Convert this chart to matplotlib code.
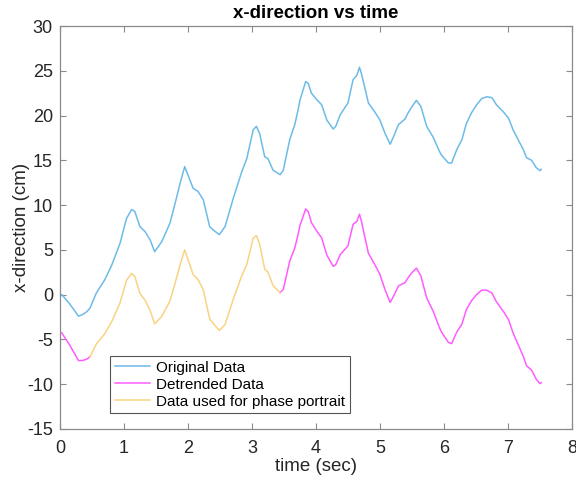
import matplotlib
matplotlib.use('Agg')
import matplotlib.pyplot as plt
import numpy as np

plt.rcParams['font.family'] = ['Liberation Sans', 'DejaVu Sans']
plt.rcParams['axes.unicode_minus'] = False

# time axis (sec)
t = [0.00, 0.03, 0.15, 0.29, 0.36, 0.42, 0.47, 0.57, 0.70, 0.81, 0.94, 1.04, 1.12, 1.17,
     1.25, 1.33, 1.41, 1.48, 1.59, 1.72, 1.80, 1.88, 1.95, 2.08, 2.16, 2.24, 2.34, 2.40,
     2.49, 2.58, 2.71, 2.84, 2.92, 3.02, 3.07, 3.12, 3.20, 3.25, 3.33, 3.44, 3.49, 3.59,
     3.67, 3.72, 3.75, 3.84, 3.88, 3.93, 4.01, 4.09, 4.17, 4.27, 4.31, 4.38, 4.50, 4.58,
     4.64, 4.68, 4.71, 4.82, 4.92, 5.00, 5.08, 5.16, 5.21, 5.29, 5.39, 5.44, 5.50, 5.57,
     5.64, 5.73, 5.83, 5.93, 5.96, 6.07, 6.12, 6.20, 6.28, 6.35, 6.43, 6.51, 6.59, 6.67,
     6.75, 6.82, 6.93, 7.01, 7.08, 7.16, 7.24, 7.29, 7.37, 7.44, 7.50, 7.52]

# original x-direction (cm)
x_orig = [0.0, 0.0, -1.0, -2.4, -2.2, -1.9, -1.5, 0.2, 1.65, 3.3, 5.75, 8.5, 9.5, 9.3,
          7.6, 7.05, 6.1, 4.8, 5.9, 8.0, 10.2, 12.5, 14.3, 11.9, 11.5, 10.6, 7.6, 7.2,
          6.7, 7.6, 10.8, 13.7, 15.2, 18.4, 18.8, 18.0, 15.4, 15.2, 13.9, 13.4, 13.9, 17.3,
          19.0, 20.6, 21.7, 23.8, 23.6, 22.5, 21.8, 21.2, 19.5, 18.5, 18.8, 20.1, 21.4, 24.0,
          24.5, 25.4, 24.7, 21.4, 20.4, 19.5, 18.0, 16.8, 17.6, 19.0, 19.6, 20.3, 21.0, 21.7,
          21.0, 18.8, 17.6, 16.0, 15.6, 14.7, 14.7, 16.2, 17.3, 19.1, 20.3, 21.2, 21.9, 22.1,
          22.0, 21.2, 20.4, 19.7, 18.4, 17.3, 16.2, 15.3, 15.0, 14.2, 13.85, 14.0]

# detrended x-direction (cm)
x_detr = [-4.20, -4.28, -5.59, -7.36, -7.34, -7.20, -6.93, -5.49, -4.38, -3.01, -0.90, 1.59,
          2.38, 2.05, 0.14, -0.62, -1.78, -3.26, -2.45, -0.69, 1.30, 3.39, 5.01, 2.27, 1.66,
          0.55, -2.71, -3.26, -4.00, -3.33, -0.47, 2.09, 3.38, 6.32, 6.59, 5.66, 2.85, 2.52,
          1.01, 0.22, 0.59, 3.73, 5.22, 6.69, 7.71, 9.58, 9.27, 8.04, 7.13, 6.33, 4.42, 3.16,
          3.35, 4.47, 5.45, 7.85, 8.19, 8.99, 8.21, 4.62, 3.36, 2.25, 0.54, -0.87, -0.20, 0.99,
          1.33, 1.90, 2.45, 2.96, 2.08, -0.36, -1.82, -3.68, -4.16, -5.34, -5.47, -4.18, -3.29,
          -1.67, -0.68, 0.01, 0.50, 0.49, 0.18, -0.80, -1.89, -2.80, -4.28, -5.59, -6.90, -7.93,
          -8.44, -9.42, -9.93, -9.83]

# window used for the phase portrait (sec)
phase_start = 0.47
phase_end = 3.44

t = np.array(t)
x_orig = np.array(x_orig)
x_detr = np.array(x_detr)
inside = (t >= phase_start) & (t <= phase_end)
outside = (t <= phase_start) | (t >= phase_end)

fig = plt.figure(figsize=(5.76, 4.82), dpi=100)
ax = fig.add_axes([0.104, 0.110, 0.889, 0.836])

ax.plot(t, x_orig, color='#6DBBE8', lw=1.1, label='Original Data')
ax.plot(t, np.where(outside, x_detr, np.nan), color='#FF5CFF', lw=1.1, label='Detrended Data')
ax.plot(t[inside], x_detr[inside], color='#F9D382', lw=1.1, label='Data used for phase portrait')

ax.set_xlim(0, 8)
ax.set_ylim(-15, 30)
ax.set_xticks(range(0, 9))
ax.set_yticks(range(-15, 31, 5))
ax.tick_params(direction='in', top=True, right=True, length=4, width=0.8,
               labelsize=13, colors='#262626', color='#8a8a8a', pad=5)
ax.tick_params(axis='x', pad=8)
for s in ax.spines.values():
    s.set_color('#8a8a8a')
    s.set_linewidth(0.9)

ax.set_xlabel('time (sec)', fontsize=13.5, color='#262626', labelpad=1)
ax.set_ylabel('x-direction (cm)', fontsize=13.5, color='#262626', labelpad=-2)
ax.set_title('x-direction vs time', fontsize=13.5, fontweight='bold', pad=6)

leg = ax.legend(loc='lower left', bbox_to_anchor=(0.098, 0.039), borderaxespad=0,
                fancybox=False, fontsize=11, handlelength=2.3, labelspacing=0.2,
                handletextpad=0.4, borderpad=0.3, framealpha=1)
leg.get_frame().set_edgecolor('#555555')
leg.get_frame().set_linewidth(0.8)

plt.savefig('out.png', dpi=100)
